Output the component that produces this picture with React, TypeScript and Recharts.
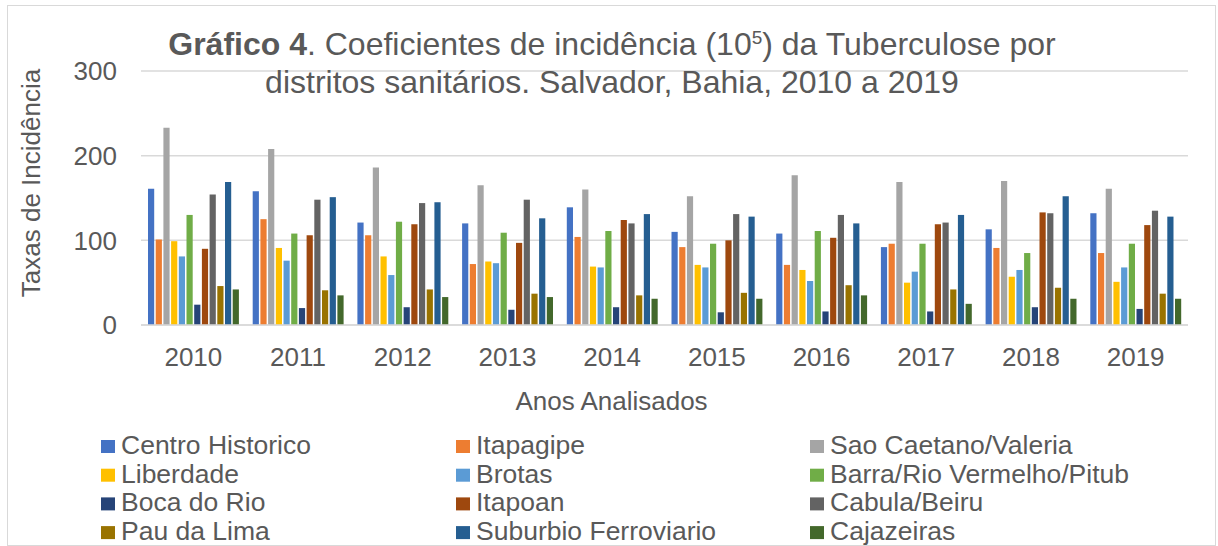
import React from 'react';
import { BarChart, Bar, XAxis, YAxis, CartesianGrid, Legend } from 'recharts';

const years = ['2010', '2011', '2012', '2013', '2014', '2015', '2016', '2017', '2018', '2019'];
const yTicks = [0, 100, 200, 300];

const centroHistorico = [161, 158, 121, 120, 139, 110, 108, 92, 113, 132];
const itapagipe = [101, 125, 106, 72, 104, 92, 71, 96, 91, 85];
const saoCaetano = [233, 208, 186, 165, 160, 152, 177, 169, 170, 161];
const liberdade = [99, 91, 81, 75, 69, 71, 65, 50, 57, 51];
const brotas = [81, 76, 59, 73, 68, 68, 52, 63, 65, 68];
const barra = [130, 108, 122, 109, 111, 96, 111, 96, 85, 96];
const bocaDoRio = [24, 20, 21, 18, 21, 15, 16, 16, 21, 19];
const itapoan = [90, 106, 119, 97, 124, 100, 103, 119, 133, 118];
const cabula = [154, 148, 144, 148, 120, 131, 130, 121, 132, 135];
const pauDaLima = [46, 41, 42, 37, 35, 38, 47, 42, 44, 37];
const suburbio = [169, 151, 145, 126, 131, 128, 120, 130, 152, 128];
const cajazeiras = [42, 35, 33, 33, 31, 31, 35, 25, 31, 31];

const seriesNames = [
  'Centro Historico',
  'Itapagipe',
  'Sao Caetano/Valeria',
  'Liberdade',
  'Brotas',
  'Barra/Rio Vermelho/Pitub',
  'Boca do Rio',
  'Itapoan',
  'Cabula/Beiru',
  'Pau da Lima',
  'Suburbio Ferroviario',
  'Cajazeiras',
];
const seriesValues = [
  centroHistorico, itapagipe, saoCaetano, liberdade, brotas, barra,
  bocaDoRio, itapoan, cabula, pauDaLima, suburbio, cajazeiras,
];
const seriesColors = [
  '#4472C4', '#ED7D31', '#A5A5A5', '#FFC000', '#5B9BD5', '#70AD47',
  '#264478', '#9E480E', '#636363', '#997300', '#255E91', '#43682B',
];

const data = years.map((year, i) => {
  const row: Record<string, string | number> = { year };
  seriesNames.forEach((name, s) => {
    row[name] = seriesValues[s][i];
  });
  return row;
});

const FONT = "'Liberation Sans', Arial, sans-serif";
const TEXT = '#595959';

const renderLegend = () => (
  <svg width={1218} height={121} style={{ display: 'block' }}>
    {seriesNames.map((name, i) => {
      const col = i % 3;
      const row = Math.floor(i / 3);
      const sx = [101, 456, 810][col];
      const base = 29 + row * 28.7;
      return (
        <g key={name}>
          <rect x={sx} y={base - 14} width={14} height={13} fill={seriesColors[i]} />
          <text x={sx + 20} y={base} fontSize={26.5} fill={TEXT} fontFamily={FONT}>
            {name}
          </text>
        </g>
      );
    })}
  </svg>
);

export default function App() {
  return (
    <div style={{ position: 'absolute', left: 0, top: 0, width: 1218, height: 546, background: '#fff', fontFamily: FONT }}>
      <div
        style={{
          position: 'absolute',
          left: 7,
          top: 5,
          width: 1207,
          height: 539,
          border: '1px solid #d9d9d9',
        }}
      />
      <BarChart
        width={1218}
        height={546}
        data={data}
        margin={{ top: 71, right: 30, left: 0, bottom: 121 }}
        barSize={6.2}
        barGap={1.5}
      >
        <CartesianGrid vertical={false} stroke="#d9d9d9" strokeWidth={1.5} />
        <XAxis
          dataKey="year"
          height={100}
          tickSize={0}
          tickMargin={23}
          axisLine={{ stroke: '#d9d9d9', strokeWidth: 1.5 }}
          tick={{ fill: TEXT, fontSize: 26, fontFamily: FONT }}
          label={{ value: 'Anos Analisados', position: 'insideBottom', offset: 15, dx: -53, fill: TEXT, fontSize: 26, fontFamily: FONT }}
        />
        <YAxis
          width={141}
          domain={[0, 300]}
          ticks={yTicks}
          tickSize={0}
          tickMargin={24}
          axisLine={false}
          tick={{ fill: TEXT, fontSize: 26, fontFamily: FONT }}
          label={{
            value: 'Taxas de Incidência',
            angle: -90,
            position: 'insideLeft',
            offset: 31,
            dy: -15,
            fill: TEXT,
            fontSize: 26,
            fontFamily: FONT,
            style: { textAnchor: 'middle' },
          }}
        />
        {seriesNames.map((name, i) => (
          <Bar key={name} dataKey={name} fill={seriesColors[i]} isAnimationActive={false} />
        ))}
        <Legend
          layout="vertical"
          align="center"
          verticalAlign="middle"
          wrapperStyle={{ left: 0, top: 425, width: 1218, height: 121 }}
          content={renderLegend}
        />
      </BarChart>
      <svg
        width={1218}
        height={120}
        style={{ position: 'absolute', left: 0, top: 0, pointerEvents: 'none' }}
      >
        <text x={612} y={55} textAnchor="middle" fontSize={32} fill={TEXT} fontFamily={FONT}>
          <tspan fontWeight="bold">Gráfico 4</tspan>
          <tspan>. Coeficientes de incidência (10</tspan>
          <tspan fontSize={19} dy={-11}>5</tspan>
          <tspan dy={11}>) da Tuberculose por</tspan>
        </text>
        <text x={612} y={93} textAnchor="middle" fontSize={32} fill={TEXT} fontFamily={FONT}>
          distritos sanitários. Salvador, Bahia, 2010 a 2019
        </text>
      </svg>
    </div>
  );
}
